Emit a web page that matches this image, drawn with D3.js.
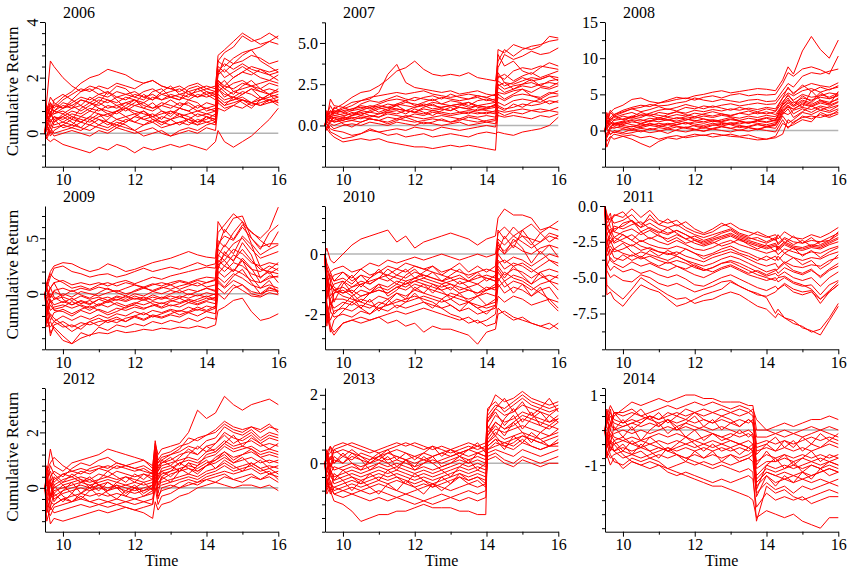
<!DOCTYPE html>
<html><head><meta charset="utf-8">
<script src="https://cdn.jsdelivr.net/npm/d3@7"></script>
<style>body{margin:0;background:#fff}svg{display:block}svg text{font-family:"Liberation Serif","Times New Roman",serif !important;}</style>
</head><body><svg id="c" width="850" height="573"></svg>
<script>
// ---------- data ----------
const years = ["2006","2007","2008","2009","2010","2011","2012","2013","2014"];
const xTicks = [10,12,14,16];
const xMinor = [11,13,15];

const tJump1432 = [9.5,9.55,9.65,9.75, 10,10.25,10.5,10.75,11,11.25,11.5,11.75,12,12.25,12.5,12.75,13,13.25,13.5,13.75,14,14.25, 14.32, 14.5,14.75,15,15.25,15.5,15.75,16];
const t2008 = [9.5,9.55,9.65,9.75, 10,10.25,10.5,10.75,11,11.25,11.5,11.75,12,12.25,12.5,12.75,13,13.25,13.5,13.75,14,14.25, 14.45, 14.6,14.75,15,15.25,15.5,15.75,16];
const t2012 = [9.5,9.55,9.65,9.75, 10,10.25,10.5,10.75,11,11.25,11.5,11.75,12,12.25,12.5, 12.57,12.65, 12.75,13,13.25,13.5,13.75,14,14.25,14.5,14.75,15,15.25,15.5,15.75,16];
const t2013 = [9.5,9.55,9.65,9.75, 10,10.25,10.5,10.75,11,11.25,11.5,11.75,12,12.25,12.5,12.75,13,13.25,13.5,13.75, 13.98,14.03, 14.25,14.5,14.75,15,15.25,15.5,15.75,16];
const t2014 = [9.5,9.55,9.65,9.75, 10,10.25,10.5,10.75,11,11.25,11.5,11.75,12,12.25,12.5,12.75,13,13.25,13.5, 13.62,13.72, 14,14.25,14.5,14.75,15,15.25,15.5,15.75,16];

const r2006 = [
[0,1.2,2.6,2.4, 2.0,1.7,1.5,1.6,1.4,1.5,1.3,1.4,1.5,1.3,1.4,1.2,1.3,1.4,1.5,1.3,1.4,1.5, 2.6, 2.9,3.1,3.5,3.3,3.4,3.6,3.4],
[0,0.6,0.9,1.0, 1.3,1.5,1.8,2.0,2.1,2.3,2.2,2.1,1.9,1.8,1.9,1.7,1.6,1.7,1.5,1.6,1.7,1.6, 2.8, 3.0,3.3,3.6,3.4,3.2,3.3,3.2],
[0,0.8,1.1,0.9, 1.2,1.4,1.6,1.5,1.7,1.6,1.8,1.7,1.6,1.8,1.9,1.7,1.6,1.5,1.7,1.8,1.6,1.7, 2.6, 2.4,2.7,2.9,3.0,3.1,3.3,3.5],
[0,0.5,0.7,1.0, 0.9,1.1,1.3,1.2,1.4,1.3,1.5,1.4,1.3,1.5,1.6,1.4,1.5,1.6,1.4,1.5,1.6,1.5, 2.4, 2.2,2.5,2.6,2.8,2.7,2.5,2.6],
[0,0.3,0.6,0.8, 1.0,0.9,1.2,1.1,1.0,1.2,1.1,1.3,1.2,1.1,1.3,1.2,1.4,1.3,1.2,1.4,1.3,1.4, 2.1, 2.3,2.0,2.2,2.4,2.3,2.2,2.3],
[0,0.7,0.9,0.8, 0.7,0.9,1.0,0.8,1.1,0.9,1.0,0.8,1.0,1.1,0.9,1.0,1.2,1.0,1.1,0.9,1.1,1.0, 1.9, 1.7,2.0,2.2,2.1,2.3,2.1,2.2],
[0,0.4,0.2,0.5, 0.6,0.8,0.7,0.9,0.8,1.0,0.9,1.1,1.0,0.9,0.8,1.0,0.9,1.1,1.0,0.8,0.9,1.0, 1.8, 1.6,1.8,1.9,1.7,1.8,1.9,1.8],
[0,0.6,0.4,0.6, 0.5,0.7,0.6,0.8,0.7,0.6,0.8,0.9,0.7,0.8,0.6,0.7,0.8,0.6,0.7,0.8,0.7,0.6, 1.5, 1.7,1.6,1.8,1.7,1.6,1.8,1.7],
[0,0.2,0.5,0.3, 0.4,0.6,0.5,0.4,0.6,0.7,0.5,0.6,0.7,0.5,0.6,0.4,0.5,0.6,0.5,0.7,0.6,0.5, 1.6, 1.3,1.5,1.4,1.6,1.5,1.4,1.6],
[0,0.9,0.6,0.7, 0.8,0.6,0.4,0.6,0.5,0.3,0.5,0.4,0.6,0.5,0.4,0.6,0.5,0.3,0.5,0.4,0.6,0.5, 1.4, 1.2,1.3,1.5,1.4,1.2,1.4,1.5],
[0,0.1,0.3,0.2, 0.3,0.2,0.4,0.3,0.5,0.4,0.3,0.5,0.4,0.3,0.5,0.4,0.3,0.4,0.5,0.3,0.4,0.5, 1.3, 1.1,1.2,1.3,1.1,1.2,1.3,1.4],
[0,-0.1,0.2,0.0, 0.1,0.2,0.1,0.3,0.2,0.1,0.3,0.2,0.1,0.3,0.4,0.2,0.3,0.4,0.3,0.5,0.4,0.3, 1.2, 1.0,1.1,1.2,1.0,1.1,1.2,1.3],
[0,-0.2,0.1,-0.1, 0.0,0.1,0.0,-0.1,0.1,0.0,0.2,0.1,0.0,0.1,0.2,0.0,-0.1,0.1,0.2,0.1,0.3,0.4, 1.1, 0.9,1.0,1.2,1.1,1.0,1.1,1.2],
[0,-0.2,-0.3,-0.2, -0.4,-0.5,-0.6,-0.7,-0.5,-0.6,-0.4,-0.5,-0.7,-0.5,-0.6,-0.5,-0.4,-0.5,-0.4,-0.5,-0.6,-0.3, 0.1, -0.3,-0.5,-0.3,-0.1,0.2,0.5,0.9],
[0,0.5,1.0,0.8, 1.1,1.0,1.2,1.1,1.3,1.2,1.0,1.1,1.2,1.0,0.9,1.1,1.0,0.9,0.8,1.0,0.9,0.8, 1.7, 1.9,1.5,1.6,1.7,1.5,1.6,1.5],
[0,0.3,-0.1,0.1, 0.3,0.5,0.4,0.6,0.9,0.8,0.7,0.9,0.8,0.7,0.6,0.8,0.7,0.9,0.8,0.6,0.7,0.8, 1.6, 1.4,1.3,1.2,1.1,1.3,1.2,1.0],
[0,0.8,1.3,1.1, 0.9,1.0,0.8,1.0,1.2,1.1,1.3,1.2,1.4,1.3,1.2,1.4,1.3,1.2,1.4,1.3,1.5,1.4, 2.2, 2.5,2.3,2.5,2.3,2.2,2.1,1.9],
[0,0.4,0.7,0.5, 0.2,0.3,0.2,0.1,0.3,0.2,0.4,0.3,0.1,-0.1,0.0,0.1,-0.1,0.0,0.1,0.0,0.2,0.1, 0.9, 0.8,1.0,0.9,1.1,1.0,1.2,1.1],
[0,1.0,0.6,1.2, 1.4,1.2,1.5,1.7,1.6,1.4,1.7,1.6,1.3,1.2,1.5,1.6,1.3,1.2,1.6,1.7,1.5,1.3, 2.3, 2.0,2.2,2.4,2.2,2.0,1.9,2.1],
[0,0.2,0.8,0.4, 0.7,0.5,0.9,1.1,0.9,0.7,0.8,1.0,1.2,0.9,1.1,0.8,0.6,0.9,1.2,1.1,0.8,0.9, 1.9, 1.6,1.4,1.7,1.9,1.6,1.4,1.3],
[0,-0.1,0.4,0.6, 0.4,0.3,0.6,0.5,0.3,0.5,0.8,0.6,0.4,0.6,0.7,0.5,0.8,0.7,0.6,0.4,0.5,0.7, 1.7, 1.5,1.2,1.4,1.6,1.3,1.1,1.2],
[0,0.6,1.1,0.7, 0.9,1.2,1.0,1.3,1.1,1.5,1.2,0.9,1.1,1.4,1.2,1.5,1.7,1.4,1.3,1.6,1.4,1.2, 2.1, 2.7,2.5,2.8,3.0,2.6,2.4,2.2],
[0,0.3,0.0,0.4, 0.6,0.4,0.2,0.5,0.7,0.4,0.2,0.4,0.6,0.8,0.5,0.3,0.5,0.7,0.4,0.3,0.6,0.4, 1.2, 1.0,1.3,1.1,0.9,1.2,1.4,1.1]
];

const r2007 = [
[0,0.5,0.8,1.0, 1.3,1.7,2.0,2.1,2.4,2.8,3.3,3.5,3.9,3.4,3.1,3.0,3.1,3.0,3.2,2.9,2.8,2.7, 3.9, 4.6,4.2,4.6,4.8,4.9,5.1,5.2],
[0,0.3,0.6,0.8, 1.0,1.2,1.5,1.6,2.0,3.1,3.7,2.6,2.3,2.2,2.1,2.0,2.1,1.9,2.0,2.1,1.9,1.8, 4.6, 4.4,4.9,4.7,4.6,4.8,5.4,5.3],
[0,0.4,1.6,1.2, 1.1,1.4,1.5,1.7,1.8,1.9,2.0,1.9,2.0,2.1,1.9,1.8,1.7,1.8,1.9,1.8,1.7,1.9, 3.5, 4.3,4.0,4.2,4.5,4.3,4.4,4.7],
[0,0.6,0.9,0.7, 0.9,1.0,1.2,1.1,1.3,1.5,1.6,1.5,1.7,1.6,1.5,1.7,1.6,1.5,1.6,1.7,1.5,1.6, 3.0, 2.8,3.3,3.5,3.4,3.6,3.5,3.4],
[0,0.2,0.5,0.6, 0.7,0.9,1.0,1.2,1.1,1.3,1.2,1.4,1.3,1.2,1.4,1.3,1.2,1.3,1.4,1.2,1.3,1.4, 2.7, 2.4,2.6,2.9,2.7,2.8,3.0,2.9],
[0,0.7,0.4,0.8, 0.6,0.7,0.9,0.8,1.0,1.1,1.0,0.9,1.1,1.2,1.0,1.1,1.2,1.1,1.0,1.2,1.1,1.2, 2.5, 2.2,2.4,2.5,2.6,2.4,2.7,2.8],
[0,0.4,0.3,0.5, 0.4,0.6,0.7,0.8,0.7,0.9,1.0,0.9,0.8,1.0,0.9,1.0,0.9,1.1,1.0,0.9,1.0,1.1, 2.3, 2.0,2.2,2.4,2.3,2.5,2.6,2.5],
[0,0.5,0.2,0.3, 0.5,0.4,0.6,0.5,0.7,0.8,0.7,0.9,0.8,0.7,0.9,0.8,0.7,0.8,0.9,0.8,0.7,0.9, 2.0, 1.9,2.1,2.2,2.0,2.3,2.2,2.4],
[0,0.3,0.6,0.4, 0.3,0.5,0.4,0.6,0.5,0.7,0.6,0.5,0.7,0.6,0.8,0.7,0.6,0.7,0.8,0.7,0.8,0.7, 1.7, 1.5,1.8,1.9,1.8,1.7,2.0,1.9],
[0,-0.1,0.3,0.2, 0.4,0.3,0.5,0.4,0.3,0.5,0.4,0.6,0.5,0.4,0.5,0.6,0.5,0.4,0.6,0.5,0.6,0.5, 1.4, 1.2,1.5,1.6,1.5,1.4,1.7,1.8],
[0,0.2,0.1,0.0, 0.2,0.3,0.2,0.4,0.3,0.2,0.4,0.3,0.2,0.3,0.4,0.3,0.2,0.4,0.3,0.2,0.3,0.4, 1.2, 1.0,1.1,1.3,1.2,1.3,1.5,1.4],
[0,-0.3,0.0,-0.2, 0.0,0.1,0.0,0.2,0.1,0.0,0.2,0.1,0.0,0.2,0.1,0.0,0.1,0.2,0.0,0.1,0.2,0.1, 0.8, 0.6,0.8,0.7,0.9,1.0,0.9,1.1],
[0,0.1,-0.4,-0.5, -0.8,-0.7,-0.5,-0.2,-0.4,-0.3,-0.2,-0.3,-0.1,-0.2,-0.3,-0.1,-0.2,-0.3,-0.2,-0.1,0.0,-0.1, 0.6, 0.5,0.6,0.5,0.4,0.6,0.5,0.7],
[0,-0.2,-0.5,-0.7, -1.0,-0.9,-0.8,-0.9,-0.8,-1.0,-1.1,-1.2,-1.3,-1.3,-1.4,-1.3,-1.2,-1.3,-1.2,-1.3,-1.4,-1.5, 0.9, 0.8,0.9,1.0,0.9,0.8,0.9,0.8],
[0,0.1,-0.2,-0.3, -0.4,-0.6,-0.5,-0.3,-0.4,-0.6,-0.5,-0.7,-0.6,-0.5,-0.7,-0.6,-0.5,-0.6,-0.7,-0.5,-0.4,-0.5, -0.4, -0.5,-0.6,-0.4,-0.3,-0.2,0.0,0.5],
[0,0.4,0.7,0.9, 0.8,1.0,1.1,1.0,1.2,1.1,1.3,1.2,1.1,1.3,1.2,1.1,1.2,1.3,1.1,1.2,1.1,1.2, 2.4, 2.6,2.5,2.7,2.9,2.8,3.0,2.7],
[0,0.9,0.5,1.1, 0.8,0.6,0.9,1.1,0.8,1.0,1.2,0.9,0.8,1.1,1.3,1.0,0.9,1.2,1.4,1.1,1.0,1.3, 3.2, 2.6,2.2,2.5,2.8,2.4,2.3,2.6],
[0,0.1,0.5,0.2, 0.3,0.6,0.8,0.6,0.5,0.8,0.9,0.7,1.0,0.8,0.6,0.9,1.1,0.8,0.7,1.0,0.9,0.8, 1.9, 1.6,1.9,2.2,1.8,1.6,1.9,2.1],
[0,0.5,0.9,0.6, 0.5,0.8,0.6,0.9,1.1,0.9,1.3,1.5,1.2,1.4,1.6,1.3,1.5,1.4,1.2,1.5,1.6,1.4, 4.3, 3.6,3.9,3.3,3.1,3.5,3.8,3.6],
[0,-0.2,0.2,0.5, 0.1,-0.1,0.2,0.4,0.3,0.1,0.3,0.5,0.3,0.1,0.2,0.4,0.2,0.3,0.5,0.4,0.2,0.3, 1.1, 0.9,1.3,1.1,1.4,1.6,1.3,1.5],
[0,0.6,1.2,0.8, 1.1,0.9,1.3,1.5,1.4,1.6,1.8,1.6,1.5,1.7,1.8,1.6,1.9,1.7,1.6,1.8,1.7,1.5, 2.9, 3.1,2.7,3.0,3.2,2.9,3.1,3.3]
];

const r2008 = [
[0,1.5,2.5,3.0, 3.5,4.3,4.5,4.0,3.8,4.2,4.6,4.4,4.8,5.0,5.3,5.5,5.2,5.4,5.6,5.8,5.7,5.5, 7.0, 8.8,7.8,11.0,13.0,11.2,10.0,12.5],
[0,1.0,1.8,2.2, 2.8,3.2,3.5,3.3,3.8,4.0,4.3,4.5,4.2,4.6,4.8,4.5,4.9,5.1,4.8,5.0,4.9,5.0, 6.5, 8.0,7.5,8.5,8.8,8.4,7.8,10.3],
[0,0.5,1.5,2.0, 2.5,3.0,3.2,3.6,3.4,3.5,3.8,4.0,4.5,4.2,4.0,4.3,4.1,3.9,4.2,4.3,4.0,4.1, 5.5, 6.5,6.0,7.5,8.0,7.8,8.2,8.5],
[0,2.0,1.5,1.8, 2.2,2.5,2.0,2.4,2.8,3.0,2.7,3.2,3.0,3.4,3.2,3.5,3.7,3.4,3.6,3.8,3.6,3.7, 5.0, 5.8,5.2,6.0,6.5,6.2,6.0,6.6],
[0,1.2,0.8,1.5, 2.0,1.7,2.2,2.0,2.5,2.3,2.6,2.4,2.8,2.6,2.9,2.7,3.0,2.8,3.1,2.9,3.2,3.0, 4.5, 5.2,4.8,5.5,5.8,5.3,5.7,6.0],
[0,0.8,1.8,1.4, 1.6,2.0,1.8,2.3,2.1,1.9,2.2,2.0,2.4,2.2,2.0,2.3,2.1,2.4,2.2,2.5,2.3,2.6, 4.0, 4.8,4.2,5.0,4.6,4.8,5.2,5.0],
[0,0.3,1.0,0.8, 1.2,1.5,1.3,1.7,1.5,1.8,1.6,1.9,1.7,2.0,1.8,2.1,1.9,1.7,2.0,1.8,2.1,1.9, 3.5, 4.2,3.8,4.5,4.2,4.6,4.4,4.8],
[0,1.5,0.5,1.0, 0.8,1.2,1.0,1.4,1.2,1.5,1.3,1.6,1.4,1.2,1.5,1.3,1.6,1.4,1.7,1.5,1.8,1.6, 3.0, 3.8,3.3,4.0,3.6,4.2,3.9,4.3],
[0,-0.5,0.5,0.3, 0.7,0.5,0.9,0.7,1.0,0.8,1.1,0.9,1.2,1.0,1.3,1.1,0.9,1.2,1.0,1.3,1.1,1.4, 2.8, 3.2,3.0,3.6,3.3,3.8,3.5,4.0],
[0,0.8,0.2,0.5, 0.3,0.6,0.4,0.7,0.5,0.8,0.6,0.4,0.7,0.5,0.8,0.6,0.9,0.7,0.5,0.8,0.6,0.9, 2.5, 2.2,2.8,3.2,2.9,3.4,3.1,3.5],
[0,-1.0,0.0,-0.3, 0.2,0.0,0.3,0.1,0.4,0.2,0.5,0.3,0.1,0.4,0.2,0.5,0.3,0.6,0.4,0.2,0.5,0.3, 2.0, 1.0,1.5,2.5,2.2,2.8,2.5,3.0],
[0,0.5,-0.5,-0.2, -0.5,-0.3,0.0,-0.3,-0.1,0.2,0.0,-0.2,0.1,-0.1,0.2,0.0,-0.2,0.1,-0.1,0.2,0.0,-0.2, 1.5, 0.3,1.2,1.8,2.0,1.8,2.2,2.5],
[0,-2.3,-1.0,-0.5, -0.8,-0.6,-1.0,-0.8,-1.2,-0.9,-0.7,-1.0,-0.8,-0.6,-0.9,-0.7,-0.5,-0.8,-0.6,-1.0,-1.2,-0.8, 1.0, 0.5,0.8,1.5,1.2,2.5,2.0,2.8],
[0,-1.5,-0.8,-1.2, -0.8,-1.2,-1.8,-2.3,-1.5,-1.0,-1.2,-0.8,-0.5,-0.7,-0.4,-0.6,-0.8,-0.9,-1.1,-1.3,-1.2,-1.0, -0.5, 1.5,1.0,2.0,1.6,2.2,1.8,2.3],
[0,1.0,2.5,2.0, 1.5,1.8,1.5,1.2,1.6,1.4,1.8,1.6,1.3,1.6,1.4,1.2,1.5,1.3,1.1,1.4,1.2,1.5, 3.2, 4.0,3.5,4.2,3.8,5.0,4.6,5.2],
[0,0.5,1.2,0.9, 1.1,0.8,0.6,0.9,0.7,1.0,0.8,1.1,0.9,0.7,1.0,0.8,1.1,0.9,1.2,1.0,0.8,1.1, 2.7, 3.5,2.9,3.8,3.4,4.0,3.7,4.5],
[0,2.5,1.2,0.6, 1.0,1.4,0.9,1.3,1.8,1.5,1.1,1.4,1.9,1.6,1.2,1.5,1.8,1.3,1.0,1.4,1.7,1.3, 3.8, 5.0,4.0,3.2,5.5,4.2,3.6,5.4],
[0,-0.8,0.3,1.0, 0.5,0.2,0.6,1.0,0.7,0.4,0.8,1.1,0.6,0.3,0.7,1.0,0.8,0.4,0.6,0.9,0.5,0.7, 2.2, 3.0,1.8,2.6,3.4,2.8,3.3,3.9],
[0,1.8,2.8,2.2, 2.6,3.0,2.6,2.9,3.3,2.9,3.2,3.6,3.3,3.0,3.4,3.1,2.8,3.2,2.9,2.6,3.0,2.7, 4.5, 6.0,5.0,6.3,5.4,6.0,5.6,6.2],
[0,0.2,-0.6,0.0, -0.3,0.2,-0.2,0.3,0.0,-0.4,0.1,0.5,0.2,-0.1,0.3,0.6,0.3,0.0,0.4,0.1,0.5,0.8, 2.4, 3.5,2.3,3.0,2.5,3.2,2.7,3.4],
[0,0.9,1.6,1.0, 1.3,1.9,2.5,2.1,1.7,2.2,2.6,2.2,1.9,2.3,2.6,2.3,2.0,2.4,2.7,2.3,2.6,2.2, 3.6, 4.5,3.4,4.8,4.0,5.3,4.4,4.9]
];

const r2009 = [
[0,1.0,2.0,2.5, 2.8,2.7,2.3,2.0,2.2,2.7,2.4,2.0,2.2,2.5,2.8,3.0,3.2,3.5,3.8,3.5,3.3,3.2, 5.5, 6.2,7.2,6.5,5.5,5.0,5.8,7.8],
[0,0.5,1.5,2.3, 2.5,2.0,1.8,1.5,1.7,1.8,1.5,1.7,2.0,2.3,2.0,2.2,2.4,2.2,2.5,2.8,2.5,2.7, 6.5, 5.5,6.8,7.0,5.0,4.0,5.5,6.2],
[0,-0.5,0.5,1.0, 1.2,0.8,1.0,0.8,1.0,0.7,1.0,1.2,0.9,1.2,1.5,1.3,1.6,1.8,2.0,2.2,2.4,2.3, 4.5, 5.2,4.8,6.0,5.0,4.2,4.5,4.5],
[0,0.5,-0.3,0.3, 0.5,0.2,0.5,0.3,0.6,0.4,0.2,0.5,0.8,0.6,0.9,0.7,1.0,1.2,1.0,1.3,1.5,1.4, 4.0, 3.5,4.5,5.0,4.0,3.2,3.5,3.8],
[0,-1.0,0.0,-0.5, 0.0,-0.3,0.2,0.0,-0.2,0.1,0.3,0.0,0.2,0.5,0.3,0.6,0.4,0.7,0.9,0.7,1.0,1.2, 3.5, 3.0,4.0,3.6,2.8,2.5,2.8,2.6],
[0,0.3,-0.8,-0.5, -0.3,-0.6,-0.2,-0.5,-0.3,-0.6,-0.2,-0.4,0.0,-0.2,0.2,0.0,0.3,0.1,0.4,0.2,0.5,0.3, 3.0, 2.5,3.5,3.0,2.2,2.0,2.5,2.1],
[0,-1.5,-0.5,-1.0, -0.7,-1.0,-0.6,-0.9,-0.5,-0.8,-0.5,-0.7,-0.4,-0.6,-0.3,-0.5,-0.2,-0.4,0.0,-0.2,0.1,-0.1, 2.5, 2.0,2.8,2.5,1.8,1.5,2.0,1.8],
[0,-0.5,-1.5,-1.2, -1.0,-1.3,-1.0,-1.3,-0.9,-1.2,-0.8,-1.1,-0.8,-1.0,-0.7,-0.9,-0.6,-0.8,-0.5,-0.7,-0.4,-0.6, 2.0, 1.5,2.2,1.8,1.2,1.0,1.6,1.5],
[0,-2.0,-1.0,-1.5, -1.6,-2.0,-1.5,-1.8,-1.4,-1.7,-1.3,-1.5,-1.2,-1.4,-1.0,-1.3,-1.0,-1.2,-0.8,-1.0,-0.7,-0.9, 1.5, 1.0,1.8,1.4,0.8,0.5,0.8,0.5],
[0,-1.0,-2.0,-2.5, -2.0,-2.4,-2.0,-2.3,-1.9,-2.2,-1.8,-2.0,-1.6,-1.9,-1.5,-1.7,-1.4,-1.6,-1.2,-1.5,-1.1,-1.3, 1.0, 0.5,1.2,0.8,0.2,0.0,0.3,0.2],
[0,-2.5,-3.0,-2.5, -3.0,-2.8,-3.2,-2.5,-2.2,-2.6,-2.3,-2.5,-2.1,-2.4,-2.0,-2.2,-1.9,-2.1,-1.7,-2.0,-1.6,-1.8, 0.5, 0.0,0.8,0.3,-0.2,-0.3,0.1,-0.1],
[0,-3.0,-2.5,-3.2, -4.2,-4.5,-3.5,-3.8,-3.0,-3.3,-2.8,-3.0,-2.7,-2.9,-2.5,-2.7,-2.4,-2.6,-2.2,-2.5,-2.1,-2.3, 0.0, -0.5,0.5,0.8,0.0,-0.2,0.5,0.3],
[0,-2.0,-3.5,-3.0, -3.8,-4.5,-4.0,-3.7,-3.5,-3.6,-3.3,-3.5,-3.4,-3.2,-3.3,-3.1,-3.2,-3.0,-3.1,-2.9,-3.1,-2.8, -1.5, -1.2,-0.6,-0.4,-1.6,-2.4,-2.2,-1.8],
[0,1.0,0.5,1.0, -0.5,-1.0,-0.7,-1.0,-0.5,-0.3,-0.6,-0.2,-0.5,-0.3,-0.6,-0.3,-0.5,-0.2,-0.4,-0.1,-0.3,0.0, 2.8, 3.5,3.0,4.0,3.0,2.2,2.0,1.0],
[0,-1.0,-3.8,-2.8, -2.5,-3.0,-2.6,-2.8,-2.5,-2.4,-2.6,-2.2,-2.0,-2.3,-1.9,-2.1,-1.8,-1.5,-1.7,-1.4,-1.6,-1.3, 1.8, 2.5,2.0,3.0,1.5,0.5,1.2,0.0],
[0,0.8,1.8,1.4, 1.0,0.5,0.7,0.4,0.8,1.0,0.7,1.0,0.8,0.5,0.8,1.0,0.8,1.1,0.9,1.2,1.0,1.3, 4.8, 4.2,5.5,6.5,4.5,3.5,4.0,4.4],
[0,-1.8,-0.6,-1.4, -1.2,-0.7,-1.1,-1.5,-1.0,-0.6,-1.0,-1.3,-0.9,-0.5,-0.9,-1.2,-0.7,-0.4,-0.8,-0.5,-0.2,-0.5, 2.2, 3.8,2.9,4.6,3.5,1.4,2.2,2.8],
[0,0.6,-0.4,0.2, -0.2,0.3,-0.1,-0.4,0.1,0.5,0.1,-0.2,0.3,0.6,0.2,0.5,0.8,0.4,0.7,1.0,0.6,0.8, 4.2, 5.8,4.9,6.2,5.6,4.8,4.2,5.6],
[0,-2.6,-1.8,-2.2, -2.8,-3.4,-2.9,-2.5,-2.9,-2.4,-2.1,-2.5,-2.0,-1.7,-2.1,-1.8,-1.5,-1.9,-1.6,-1.2,-1.5,-1.1, 1.2, 0.6,1.6,2.2,1.0,0.0,0.6,0.2],
[0,-0.2,0.6,-0.3, -0.8,-0.4,-0.9,-0.6,-1.1,-0.7,-0.3,-0.6,-0.2,-0.5,-0.1,-0.4,0.0,0.3,-0.1,0.2,0.5,0.2, 3.4, 4.4,3.6,5.2,4.4,2.4,1.8,2.3],
[0,-1.2,-2.4,-1.7, -1.4,-1.8,-1.4,-1.1,-1.5,-1.9,-1.6,-1.2,-1.0,-1.3,-1.1,-0.8,-1.1,-0.9,-0.6,-0.9,-0.6,-0.3, 2.6, 3.0,2.0,3.2,2.3,1.0,1.4,1.6]
];

const r2010 = [
[0,0.2,-0.2,-0.3, 0.0,0.3,0.5,0.6,0.7,0.8,0.4,0.6,0.2,0.4,0.5,0.6,0.7,0.6,0.5,0.3,0.5,0.6, 1.2, 1.5,1.3,1.3,1.2,0.8,0.9,1.1],
[0,-0.3,-0.6,-0.5, -0.4,-0.6,-0.5,-0.3,-0.4,-0.2,-0.3,-0.2,-0.1,-0.2,-0.1,0.0,-0.1,-0.2,-0.1,0.0,-0.1,0.0, 0.7, 0.9,0.6,0.8,1.0,0.7,0.9,0.8],
[0,-0.5,-0.9,-0.7, -0.6,-0.8,-0.5,-0.7,-0.6,-0.4,-0.5,-0.3,-0.4,-0.5,-0.4,-0.6,-0.5,-0.6,-0.7,-0.6,-0.5,-0.6, 0.5, 0.3,0.6,0.4,0.2,0.4,0.6,0.5],
[0,-1.0,-0.7,-0.9, -0.8,-1.0,-0.7,-0.8,-0.6,-0.7,-0.5,-0.6,-0.4,-0.5,-0.6,-0.7,-0.8,-0.7,-0.9,-0.8,-0.7,-0.8, 0.2, 0.0,0.3,0.1,0.0,0.2,0.3,0.2],
[0,-0.8,-1.2,-1.0, -0.9,-1.1,-0.9,-1.0,-0.8,-0.9,-0.7,-0.8,-0.6,-0.7,-0.8,-0.9,-0.8,-1.0,-0.9,-1.0,-0.8,-0.9, 0.0, -0.3,-0.1,-0.2,-0.4,-0.2,0.0,-0.1],
[0,-1.5,-1.0,-1.2, -1.1,-1.3,-1.0,-1.2,-1.0,-1.1,-0.9,-1.0,-0.8,-0.9,-1.0,-1.1,-1.0,-1.2,-1.1,-1.0,-1.2,-1.1, -0.2, -0.5,-0.3,-0.4,-0.6,-0.4,-0.2,-0.3],
[0,-1.2,-1.5,-1.3, -1.2,-1.4,-1.2,-1.3,-1.1,-1.2,-1.0,-1.1,-0.9,-1.0,-1.1,-1.2,-1.1,-1.3,-1.2,-1.3,-1.1,-1.2, -0.4, -0.7,-0.5,-0.6,-0.8,-0.6,-0.5,-0.6],
[0,-2.0,-1.6,-1.8, -1.6,-1.7,-1.5,-1.6,-1.4,-1.5,-1.3,-1.4,-1.2,-1.3,-1.4,-1.5,-1.3,-1.4,-1.5,-1.4,-1.3,-1.4, -0.6, -0.9,-0.7,-0.8,-1.0,-0.8,-0.7,-0.8],
[0,-1.8,-2.2,-1.9, -1.8,-1.9,-1.7,-1.8,-1.6,-1.7,-1.5,-1.6,-1.5,-1.4,-1.5,-1.6,-1.5,-1.7,-1.6,-1.8,-1.7,-1.6, -0.8, -1.1,-0.9,-1.0,-1.2,-1.0,-0.9,-1.2],
[0,-2.3,-1.9,-2.1, -2.0,-2.1,-1.9,-2.0,-1.8,-1.9,-1.7,-1.8,-1.7,-1.6,-1.7,-1.8,-1.7,-1.9,-1.8,-2.0,-1.9,-1.8, -1.0, -1.3,-1.1,-1.2,-1.4,-1.2,-1.1,-1.5],
[0,-1.6,-2.4,-2.6, -2.3,-2.2,-2.1,-2.2,-2.1,-2.0,-1.9,-2.0,-1.9,-1.8,-1.9,-2.0,-2.1,-2.2,-2.1,-2.3,-2.2,-2.0, -1.4, -1.6,-1.4,-1.5,-1.7,-1.6,-1.5,-1.8],
[0,-2.0,-2.5,-2.7, -2.3,-2.2,-2.3,-2.2,-2.1,-2.3,-2.2,-2.4,-2.3,-2.6,-2.4,-2.5,-2.5,-2.6,-2.7,-3.0,-2.6,-2.5, -2.0, -1.9,-2.1,-2.2,-2.3,-2.4,-2.3,-2.5],
[0,-1.3,-1.0,-1.2, -1.4,-1.5,-1.6,-1.7,-1.8,-1.7,-1.6,-1.5,-1.4,-1.5,-1.6,-1.8,-2.0,-2.1,-2.3,-2.2,-2.4,-2.3, -1.8, -2.0,-2.2,-2.1,-2.3,-2.4,-2.5,-2.3],
[0,-0.6,-1.4,-1.2, -1.3,-1.1,-1.0,-0.9,-0.8,-0.7,-0.8,-0.9,-0.8,-0.7,-0.8,-0.9,-1.0,-1.1,-1.2,-1.3,-1.2,-1.1, -0.3, -0.2,-0.4,-0.3,-0.5,-0.7,-0.9,-1.0],
[0,-0.4,-0.8,-1.1, -1.3,-1.2,-1.4,-1.3,-1.2,-1.3,-1.1,-1.2,-1.0,-1.1,-1.2,-1.3,-1.4,-1.5,-1.6,-1.7,-1.8,-1.7, -0.9, -0.6,-0.8,-0.9,-1.1,-1.3,-1.5,-1.6],
[0,-0.9,-1.7,-1.5, -1.5,-1.6,-1.4,-1.3,-1.2,-1.3,-1.1,-1.0,-0.9,-0.8,-0.9,-1.0,-0.9,-0.8,-0.9,-0.7,-0.8,-0.9, 0.3, 0.1,0.4,0.6,0.5,0.4,0.7,0.6],
[0,-1.4,-0.9,-1.6, -1.0,-0.7,-1.1,-0.8,-0.5,-0.8,-1.0,-0.7,-0.5,-0.8,-0.6,-0.9,-0.7,-0.5,-0.8,-0.6,-0.9,-0.7, 0.4, 0.0,0.5,0.2,-0.3,0.1,-0.2,-0.4],
[0,-2.4,-1.5,-2.0, -1.7,-1.4,-1.8,-1.5,-1.9,-1.6,-1.3,-1.5,-1.1,-1.3,-1.0,-1.2,-1.5,-1.3,-1.6,-1.4,-1.7,-1.5, -0.5, -0.8,-0.4,-0.7,-1.0,-0.6,-0.9,-0.7],
[0,-0.7,-1.9,-1.3, -0.9,-1.3,-1.6,-1.3,-1.0,-1.4,-1.2,-0.9,-1.2,-1.0,-1.3,-1.0,-1.2,-0.9,-1.1,-1.4,-1.2,-1.0, 0.1, 0.6,0.2,0.8,0.4,0.0,0.3,-0.1],
[0,-1.9,-2.6,-2.2, -1.9,-1.6,-1.8,-2.0,-1.7,-1.5,-1.8,-1.6,-1.3,-1.6,-1.8,-1.5,-1.7,-1.9,-1.6,-1.8,-2.0,-1.7, -1.1, -0.9,-1.3,-1.0,-1.4,-1.1,-1.6,-1.9],
[0,-1.1,-0.6,-0.9, -0.6,-0.9,-0.7,-1.0,-0.8,-0.5,-0.7,-0.5,-0.8,-0.6,-0.4,-0.7,-0.5,-0.3,-0.6,-0.4,-0.6,-0.4, 0.8, 0.5,0.9,0.6,0.3,0.7,0.4,0.6]
];

const r2011 = [
[0,-0.8,-1.0,-0.6, -0.8,-0.2,-0.8,-0.3,-1.0,-1.2,-1.0,-1.5,-1.8,-2.0,-1.8,-1.4,-1.2,-1.6,-1.8,-2.0,-2.2,-2.0, -2.3, -1.8,-2.2,-2.3,-2.0,-2.2,-1.9,-1.5],
[0,-1.2,-0.8,-1.2, -1.0,-0.6,-1.3,-0.9,-1.3,-1.5,-1.3,-1.7,-2.0,-2.2,-2.0,-1.8,-1.6,-2.0,-2.2,-2.4,-2.6,-2.3, -2.6, -2.2,-2.5,-2.6,-2.4,-2.5,-2.2,-1.9],
[0,-1.5,-2.0,-1.6, -1.4,-1.0,-1.5,-1.2,-1.6,-1.9,-1.7,-2.0,-2.3,-2.5,-2.3,-2.1,-1.9,-2.2,-2.4,-2.6,-2.8,-2.6, -2.9, -2.5,-2.8,-2.9,-2.7,-2.8,-2.5,-2.2],
[0,-2.0,-1.6,-2.2, -1.8,-1.6,-2.0,-1.7,-2.1,-2.3,-2.0,-2.3,-2.6,-2.8,-2.6,-2.3,-2.1,-2.4,-2.6,-2.8,-3.0,-2.8, -3.1, -2.7,-3.0,-3.1,-2.9,-3.0,-2.7,-2.5],
[0,-2.5,-2.2,-2.6, -2.3,-2.0,-2.5,-2.2,-2.5,-2.7,-2.4,-2.7,-3.0,-3.1,-2.9,-2.6,-2.4,-2.7,-2.9,-3.1,-3.3,-3.1, -3.4, -3.0,-3.2,-3.4,-3.2,-3.3,-3.0,-2.8],
[0,-1.8,-2.6,-2.2, -2.5,-2.8,-2.4,-2.7,-2.9,-3.0,-2.8,-3.0,-3.3,-3.5,-3.3,-3.0,-2.8,-3.1,-3.3,-3.6,-3.8,-3.5, -3.8, -3.3,-3.6,-3.8,-3.6,-3.7,-3.4,-3.2],
[0,-3.0,-2.8,-3.2, -3.0,-2.7,-3.1,-2.9,-3.2,-3.4,-3.2,-3.5,-3.7,-3.9,-3.6,-3.4,-3.2,-3.4,-3.7,-4.0,-4.2,-4.0, -4.3, -3.9,-4.2,-4.3,-4.1,-4.2,-3.8,-3.6],
[0,-2.2,-3.4,-3.0, -3.3,-3.5,-3.2,-3.4,-3.6,-3.8,-3.5,-3.8,-4.0,-4.2,-4.0,-3.7,-3.5,-3.7,-4.0,-4.3,-4.6,-4.4, -4.7, -4.3,-4.6,-4.8,-4.5,-4.9,-4.4,-4.0],
[0,-3.5,-3.0,-3.6, -3.8,-3.4,-3.7,-3.5,-3.8,-4.0,-3.8,-4.0,-4.3,-4.5,-4.3,-4.0,-3.8,-4.0,-4.3,-4.6,-4.9,-4.7, -4.9, -4.6,-5.0,-5.2,-5.0,-5.6,-5.0,-4.6],
[0,-2.8,-3.8,-4.0, -4.3,-3.9,-4.2,-4.0,-4.3,-4.5,-4.2,-4.5,-4.8,-5.0,-4.7,-4.4,-4.2,-4.5,-4.8,-5.0,-5.2,-5.0, -5.3, -5.0,-5.4,-5.6,-5.5,-6.2,-5.5,-5.2],
[0,-4.0,-4.5,-4.2, -4.6,-4.4,-4.7,-4.5,-4.8,-5.0,-4.8,-5.1,-5.5,-5.6,-5.3,-5.0,-4.8,-5.1,-5.4,-5.7,-5.9,-5.6, -5.8, -5.4,-5.8,-6.0,-5.9,-6.8,-6.0,-5.5],
[0,-4.5,-5.0,-4.8, -5.2,-5.3,-4.8,-5.0,-5.4,-5.6,-5.4,-5.7,-6.0,-5.8,-5.6,-5.3,-5.2,-5.6,-5.9,-6.2,-6.3,-6.0, -5.8, -5.5,-6.0,-6.2,-6.0,-6.5,-5.9,-5.3],
[0,-6.2,-6.0,-6.5, -7.0,-6.2,-5.5,-5.8,-6.0,-6.5,-7.0,-6.8,-6.5,-6.2,-6.0,-5.8,-5.3,-5.6,-5.9,-6.1,-6.4,-7.5, -7.2, -7.8,-8.0,-8.5,-8.7,-9.0,-8.0,-7.0],
[0,-5.5,-5.8,-6.0, -6.5,-5.8,-5.0,-5.4,-5.8,-6.2,-6.5,-6.4,-6.8,-6.6,-6.5,-6.2,-6.0,-6.2,-6.6,-7.0,-7.2,-7.8, -7.5, -7.8,-8.2,-8.4,-8.8,-8.6,-7.8,-6.8],
[0,-0.5,-1.5,-1.8, -2.0,-2.4,-2.8,-3.0,-3.2,-3.3,-3.5,-3.8,-4.2,-4.5,-4.3,-4.0,-3.9,-4.2,-4.5,-4.8,-5.0,-5.2, -5.0, -4.9,-5.3,-5.5,-5.8,-6.5,-6.0,-5.5],
[0,-1.0,-0.5,-1.8, -1.2,-1.0,-1.8,-1.5,-1.8,-2.0,-1.7,-2.0,-2.4,-2.6,-2.4,-2.2,-2.0,-2.3,-2.5,-2.7,-2.9,-2.7, -3.0, -2.6,-2.9,-3.0,-2.8,-2.9,-2.6,-2.3],
[0,-1.6,-1.1,-0.7, -0.4,-1.1,-1.5,-0.6,-1.3,-0.9,-1.4,-1.1,-1.6,-1.9,-1.6,-1.2,-1.5,-1.9,-2.1,-1.8,-2.1,-2.4, -2.0, -2.6,-2.1,-2.6,-2.2,-2.7,-2.4,-2.0],
[0,-2.8,-1.9,-2.5, -2.0,-2.4,-1.8,-2.3,-2.0,-2.5,-2.2,-2.6,-2.4,-2.7,-2.5,-2.8,-2.6,-2.3,-2.7,-3.0,-2.7,-3.2, -2.8, -3.3,-2.9,-3.5,-3.1,-3.6,-3.2,-2.9],
[0,-3.2,-2.4,-3.0, -2.6,-3.2,-3.6,-3.1,-3.5,-3.1,-3.4,-3.0,-3.3,-3.7,-3.4,-3.2,-3.0,-3.3,-3.5,-3.8,-3.5,-3.8, -3.5, -4.0,-3.6,-4.1,-3.8,-4.4,-4.0,-3.4],
[0,-1.3,-1.9,-1.4, -1.6,-1.3,-1.1,-1.6,-1.9,-1.5,-1.9,-2.3,-2.1,-2.4,-2.2,-1.9,-1.7,-2.1,-2.3,-2.2,-2.5,-2.2, -2.7, -2.3,-2.7,-2.4,-2.8,-2.5,-2.4,-1.8],
[0,-4.2,-3.6,-3.9, -3.4,-3.8,-3.5,-3.9,-4.2,-3.9,-4.2,-4.4,-4.1,-4.4,-4.6,-4.3,-4.1,-4.4,-4.7,-4.5,-4.8,-4.5, -4.4, -4.0,-4.5,-4.7,-4.4,-5.0,-4.5,-4.2]
];

const r2012 = [
[0,0.5,1.4,0.8, 0.6,0.9,1.0,1.1,1.2,1.4,1.3,1.2,1.1,1.0,0.8, 1.6,1.2, 1.4,1.5,1.6,2.0,2.8,2.5,2.7,3.3,3.0,2.8,3.0,3.1,3.2,3.0],
[0,0.8,0.4,0.6, 0.4,0.7,0.9,0.8,1.0,1.1,0.9,0.8,0.9,1.0,0.7, 1.7,1.0, 1.2,1.3,1.5,1.6,1.8,1.9,2.1,2.4,2.2,2.1,2.2,2.0,2.2,2.1],
[0,0.3,0.6,0.2, 0.5,0.6,0.5,0.7,0.8,0.7,0.9,0.8,0.7,0.8,0.6, 1.5,0.9, 1.0,1.2,1.3,1.5,1.4,1.7,1.8,2.2,2.0,1.9,2.1,1.8,2.0,1.9],
[0,-0.2,0.4,0.1, 0.3,0.4,0.6,0.5,0.7,0.6,0.8,0.7,0.6,0.7,0.5, 1.3,0.8, 0.9,1.0,1.2,1.3,1.2,1.5,1.6,2.0,1.8,1.7,1.9,1.6,1.8,1.7],
[0,0.4,-0.3,0.0, 0.2,0.3,0.4,0.3,0.5,0.4,0.6,0.5,0.4,0.5,0.4, 1.1,0.6, 0.8,0.9,1.0,1.1,1.0,1.3,1.4,1.7,1.5,1.6,1.7,1.5,1.6,1.5],
[0,-0.5,0.2,-0.2, 0.1,0.2,0.3,0.2,0.3,0.4,0.3,0.4,0.3,0.2,0.3, 0.9,0.5, 0.6,0.7,0.9,1.0,0.9,1.1,1.2,1.5,1.3,1.4,1.5,1.3,1.4,1.3],
[0,0.2,-0.4,-0.1, 0.0,0.1,0.2,0.1,0.2,0.3,0.2,0.1,0.2,0.1,0.2, 0.8,0.3, 0.5,0.6,0.7,0.8,0.7,0.9,1.0,1.3,1.1,1.2,1.3,1.1,1.2,1.1],
[0,-0.3,0.1,-0.3, -0.1,0.0,0.1,0.0,0.1,0.0,0.1,0.0,-0.1,0.0,0.1, 0.6,0.2, 0.3,0.5,0.6,0.7,0.6,0.8,0.9,1.1,0.9,1.0,1.1,0.9,1.0,0.9],
[0,-0.6,-0.2,-0.4, -0.2,-0.1,0.0,-0.1,0.0,-0.1,0.0,-0.1,-0.2,-0.1,0.0, 0.5,0.1, 0.2,0.3,0.4,0.5,0.4,0.6,0.7,0.9,0.7,0.8,0.9,0.7,0.8,0.7],
[0,0.1,-0.5,-0.6, -0.4,-0.3,-0.2,-0.3,-0.2,-0.3,-0.2,-0.3,-0.4,-0.3,-0.2, 0.4,0.0, 0.1,0.2,0.3,0.4,0.3,0.5,0.6,0.8,0.6,0.7,0.8,0.6,0.7,0.5],
[0,-0.8,-1.0,-0.7, -0.6,-0.5,-0.4,-0.5,-0.4,-0.5,-0.4,-0.5,-0.6,-0.5,-0.4, 0.2,-0.3, -0.1,0.0,0.2,0.3,0.2,0.4,0.5,0.6,0.5,0.6,0.7,0.5,0.6,0.3],
[0,-1.2,-0.7,-0.9, -0.8,-0.7,-0.6,-0.7,-0.6,-0.5,-0.6,-0.7,-0.8,-0.7,-0.6, 0.0,-0.6, -0.3,-0.2,0.0,0.1,0.2,0.3,0.4,0.5,0.3,0.4,0.5,0.3,0.4,0.2],
[0,-0.5,-1.3,-1.1, -1.2,-1.1,-1.0,-0.9,-0.8,-0.9,-0.8,-0.7,-0.8,-0.9,-1.1, -0.5,-0.8, -0.6,-0.5,-0.3,-0.2,0.0,0.1,0.2,0.1,0.0,0.1,0.1,0.0,0.1,-0.1],
[0,0.6,0.9,1.1, 0.8,0.6,0.7,0.6,0.7,0.8,0.7,0.8,0.7,0.6,0.5, 1.4,0.9, 1.1,1.2,1.4,1.8,1.7,1.9,2.0,2.3,2.1,2.0,2.2,2.1,2.3,2.0],
[0,-0.4,-0.8,-0.6, -0.4,-0.5,-0.3,-0.5,-0.6,-0.7,-0.6,-0.5,-0.4,-0.5,-0.6, 0.3,-0.4, 0.0,0.1,0.0,0.2,0.1,0.3,0.2,0.4,0.3,0.2,0.4,0.3,0.5,0.4],
[0,0.3,0.1,0.3, 0.5,0.4,0.2,0.3,0.1,0.2,0.0,0.1,0.0,-0.1,0.1, 1.0,0.4, 0.7,0.8,0.6,0.9,0.8,1.2,1.3,1.6,1.4,1.5,1.4,1.2,1.3,1.2],
[0,0.7,-0.3,0.4, 0.1,-0.2,0.2,0.4,0.1,-0.1,0.2,0.4,0.2,0.5,0.3, 1.2,0.6, 0.9,1.1,0.8,1.2,1.5,1.3,1.6,1.9,1.6,1.8,2.0,1.7,1.9,1.8],
[0,-0.9,-0.4,0.1, -0.3,-0.5,-0.2,0.0,-0.3,-0.1,0.1,-0.2,0.0,-0.3,-0.1, 0.8,-0.2, 0.4,0.6,0.9,0.7,0.5,0.8,1.0,1.2,0.9,1.1,0.8,1.0,0.7,0.8],
[0,0.2,0.8,0.5, 0.2,0.5,0.3,0.0,0.3,0.6,0.4,0.2,0.5,0.3,0.6, 1.3,0.7, 1.0,0.8,1.1,1.4,1.2,1.5,1.3,1.6,1.9,1.5,1.8,1.6,1.4,1.6],
[0,-0.1,0.3,-0.5, -0.1,0.2,-0.2,0.1,-0.1,0.2,0.0,-0.3,0.0,0.2,-0.1, 0.7,0.1, 0.4,0.2,0.6,0.9,0.6,0.8,1.1,1.3,1.0,1.2,1.4,1.1,0.9,1.0],
[0,0.4,-0.7,-0.2, -0.5,-0.2,-0.4,-0.1,0.1,-0.2,-0.4,-0.1,0.1,-0.2,0.0, 0.9,0.3, 0.6,0.4,0.7,0.5,0.8,1.0,0.7,1.0,0.8,0.6,0.9,0.7,0.5,0.6]
];

const r2013 = [
[0,0.2,0.3,0.5, 0.6,0.5,0.4,0.3,0.4,0.5,0.6,0.5,0.6,0.5,0.4,0.5,0.4,0.5,0.6,0.5, 0.6,1.5, 2.0,1.8,1.9,2.1,1.9,1.8,1.7,1.8],
[0,0.3,0.1,0.4, 0.5,0.6,0.5,0.4,0.3,0.4,0.5,0.6,0.5,0.4,0.5,0.4,0.3,0.4,0.5,0.4, 0.5,1.6, 1.8,1.5,1.7,1.9,1.7,1.6,1.5,1.6],
[0,-0.2,0.2,0.0, 0.2,0.1,0.3,0.2,0.1,0.3,0.4,0.3,0.2,0.3,0.2,0.3,0.4,0.3,0.4,0.5, 0.4,1.2, 1.6,1.4,1.5,1.7,1.6,1.5,1.4,1.6],
[0,0.2,-0.1,0.1, 0.0,0.2,0.1,0.0,0.2,0.1,0.2,0.1,0.2,0.1,0.0,0.1,0.2,0.3,0.2,0.3, 0.2,1.0, 1.4,1.2,1.3,1.5,1.4,1.3,1.2,1.4],
[0,-0.3,0.0,-0.2, -0.1,0.0,-0.1,0.0,0.1,0.0,0.1,0.0,-0.1,0.0,0.1,0.0,0.1,0.2,0.1,0.2, 0.1,0.8, 1.2,1.0,1.1,1.3,1.2,1.1,1.0,1.2],
[0,0.1,-0.3,-0.1, -0.2,-0.1,-0.2,-0.1,0.0,-0.1,0.0,-0.1,-0.2,-0.1,-0.2,-0.1,0.0,0.1,0.0,0.1, 0.0,0.7, 1.0,0.9,1.0,1.1,1.0,0.9,0.8,1.0],
[0,-0.4,-0.2,-0.4, -0.3,-0.2,-0.3,-0.2,-0.1,-0.2,-0.1,-0.2,-0.3,-0.2,-0.3,-0.2,-0.1,0.0,-0.1,0.0, -0.1,0.6, 0.9,0.7,0.8,0.9,0.8,0.7,0.8,0.9],
[0,0.2,-0.4,-0.5, -0.4,-0.3,-0.4,-0.3,-0.2,-0.3,-0.2,-0.3,-0.4,-0.3,-0.4,-0.3,-0.2,-0.1,-0.2,-0.1, -0.2,0.5, 0.7,0.6,0.7,0.8,0.7,0.6,0.7,0.8],
[0,-0.6,-0.3,-0.6, -0.5,-0.4,-0.5,-0.4,-0.3,-0.4,-0.3,-0.4,-0.5,-0.4,-0.5,-0.4,-0.3,-0.2,-0.3,-0.2, -0.3,0.4, 0.6,0.5,0.4,0.6,0.5,0.4,0.5,0.6],
[0,0.0,-0.6,-0.7, -0.6,-0.5,-0.6,-0.5,-0.4,-0.5,-0.4,-0.5,-0.6,-0.5,-0.6,-0.5,-0.4,-0.3,-0.4,-0.3, -0.4,0.3, 0.4,0.3,0.2,0.4,0.3,0.2,0.3,0.4],
[0,-0.8,-0.5,-0.8, -0.7,-0.6,-0.7,-0.6,-0.5,-0.6,-0.5,-0.6,-0.7,-0.6,-0.7,-0.6,-0.5,-0.4,-0.5,-0.4, -0.5,0.2, 0.3,0.1,0.0,0.2,0.1,0.0,0.1,0.2],
[0,-0.5,-0.9,-0.7, -0.8,-0.7,-0.8,-0.7,-0.6,-0.7,-0.8,-0.9,-0.8,-0.7,-0.6,-0.7,-0.8,-0.7,-0.6,-0.7, -0.6,0.1, 0.2,0.0,-0.1,0.1,0.0,-0.1,0.0,0.0],
[0,-0.9,-0.7,-0.9, -0.8,-0.9,-0.8,-0.9,-0.8,-0.9,-1.0,-0.9,-1.0,-1.1,-1.0,-0.9,-1.0,-0.9,-0.8,-0.9, -0.8,0.6, 0.8,0.5,0.6,0.8,0.7,0.6,0.5,0.7],
[0,-0.5,-0.8,-1.1, -1.2,-1.4,-1.7,-1.6,-1.5,-1.5,-1.4,-1.4,-1.3,-1.2,-1.3,-1.3,-1.3,-1.4,-1.4,-1.5, -1.5,0.9, 1.2,1.0,1.2,1.4,1.3,1.2,1.1,1.3],
[0,-0.7,-0.6,-0.9, -1.0,-0.9,-1.0,-1.1,-1.0,-1.1,-1.0,-1.1,-1.2,-1.1,-1.2,-1.1,-1.0,-1.1,-1.0,-1.1, -1.0,0.4, 0.5,0.6,0.5,0.7,0.5,0.4,0.5,0.5],
[0,0.3,0.5,0.3, 0.4,0.3,0.2,0.1,0.2,0.3,0.2,0.1,0.0,0.1,0.2,0.3,0.2,0.3,0.4,0.3, 0.4,1.4, 1.7,1.6,1.8,2.0,1.8,1.7,1.6,1.7],
[0,0.4,-0.2,0.2, 0.0,0.3,0.1,-0.2,0.0,0.2,-0.1,0.1,-0.2,0.0,0.2,-0.1,0.0,0.2,0.0,0.3, 0.2,1.2, 1.5,1.1,1.4,1.0,1.3,1.5,1.2,1.3],
[0,-0.7,-0.2,-0.5, -0.2,-0.4,-0.6,-0.3,-0.5,-0.2,-0.4,-0.6,-0.3,-0.5,-0.7,-0.4,-0.6,-0.3,-0.5,-0.4, -0.6,0.8, 1.1,0.8,1.2,0.9,0.6,0.9,1.1,1.0],
[0,0.1,0.5,0.0, 0.3,0.0,-0.2,0.1,0.3,0.0,-0.2,0.1,-0.1,0.2,0.0,-0.2,-0.4,-0.1,0.1,-0.2, 0.0,1.1, 0.8,1.3,1.6,1.2,1.5,1.1,1.4,1.2],
[0,-0.4,-0.8,-0.3, -0.5,-0.8,-0.5,-0.7,-0.9,-0.6,-0.8,-0.5,-0.7,-0.9,-0.6,-0.8,-0.6,-0.4,-0.6,-0.5, -0.7,0.5, 0.7,0.4,0.8,0.6,0.9,0.7,0.5,0.6],
[0,0.3,-0.1,0.4, 0.2,0.4,0.2,0.0,0.2,0.4,0.1,0.3,0.1,0.3,0.5,0.2,0.4,0.2,0.4,0.6, 0.3,1.3, 1.6,1.9,1.5,1.8,1.4,1.6,1.9,1.5]
];

const r2014 = [
[0,0.3,0.1,0.4, 0.6,0.8,0.7,0.8,0.9,0.8,0.9,1.0,1.0,0.9,0.9,0.8,0.8,0.8,0.7, 0.7,0.0, 0.0,0.1,0.2,0.1,0.2,0.3,0.3,0.4,0.3],
[0,0.6,0.2,0.5, 0.5,0.6,0.4,0.5,0.6,0.7,0.6,0.7,0.8,0.7,0.8,0.7,0.6,0.7,0.6, 0.5,-0.2, -0.2,-0.1,0.0,-0.1,0.0,0.1,0.0,0.1,0.0],
[0,0.2,0.5,0.3, 0.2,0.3,0.2,0.4,0.3,0.4,0.5,0.4,0.5,0.4,0.5,0.4,0.5,0.4,0.5, 0.4,-0.4, -0.3,-0.4,-0.3,-0.4,-0.3,-0.2,-0.3,-0.2,-0.3],
[0,-0.2,0.2,0.0, 0.1,0.2,0.1,0.2,0.1,0.3,0.2,0.3,0.2,0.3,0.2,0.3,0.2,0.3,0.2, 0.3,-0.6, -0.5,-0.6,-0.5,-0.6,-0.5,-0.6,-0.5,-0.4,-0.5],
[0,0.1,-0.2,-0.1, 0.0,-0.1,0.0,-0.1,0.0,0.1,0.0,0.1,0.0,0.1,0.0,0.1,0.0,-0.1,0.0, -0.1,-0.9, -0.7,-0.8,-0.7,-0.8,-0.7,-0.8,-0.7,-0.8,-0.7],
[0,-0.3,0.0,-0.2, -0.3,-0.2,-0.3,-0.2,-0.1,-0.2,-0.1,-0.2,-0.3,-0.2,-0.1,-0.2,-0.1,-0.2,-0.1, -0.2,-1.1, -0.9,-0.9,-0.8,-0.9,-0.8,-0.9,-0.8,-0.9,-0.8],
[0,-0.5,-0.3,-0.4, -0.3,-0.4,-0.5,-0.4,-0.3,-0.4,-0.3,-0.4,-0.3,-0.4,-0.3,-0.4,-0.3,-0.4,-0.3, -0.4,-1.3, -1.0,-1.1,-1.0,-1.1,-1.0,-0.9,-1.0,-0.9,-1.0],
[0,0.0,-0.5,-0.6, -0.5,-0.6,-0.5,-0.6,-0.5,-0.6,-0.5,-0.4,-0.5,-0.4,-0.5,-0.4,-0.5,-0.4,-0.5, -0.4,-1.4, -1.1,-1.2,-1.1,-1.0,-1.1,-1.0,-1.1,-1.0,-1.1],
[0,-0.6,-0.8,-0.7, -0.6,-0.7,-0.8,-0.7,-0.6,-0.5,-0.6,-0.5,-0.6,-0.5,-0.6,-0.5,-0.6,-0.5,-0.6, -0.5,-1.5, -1.2,-1.3,-1.2,-1.3,-1.2,-1.3,-1.2,-1.1,-1.2],
[0,-0.4,-0.7,-0.9, -1.0,-0.8,-0.9,-0.8,-0.7,-0.8,-0.7,-0.8,-0.7,-0.8,-0.7,-0.8,-0.7,-0.8,-0.7, -0.6,-1.6, -1.3,-1.5,-1.4,-1.5,-1.4,-1.5,-1.4,-1.5,-1.4],
[0,-0.7,-1.0,-0.8, -1.1,-0.9,-1.0,-0.9,-1.0,-1.1,-1.0,-0.9,-1.0,-0.9,-1.0,-0.9,-1.0,-0.9,-0.8, -0.9,-1.8, -1.5,-1.7,-1.6,-1.8,-1.6,-1.7,-1.6,-1.5,-1.6],
[0,-0.2,-0.6,-0.4, -0.7,-0.9,-1.0,-1.1,-1.0,-1.2,-1.3,-1.2,-1.3,-1.4,-1.5,-1.4,-1.5,-1.4,-1.3, -1.4,-2.2, -1.8,-2.0,-1.9,-2.0,-1.9,-2.1,-2.0,-1.9,-1.9],
[0,-0.3,-0.5,-0.6, -0.8,-0.7,-0.6,-0.8,-0.9,-1.1,-1.2,-1.3,-1.4,-1.5,-1.6,-1.6,-1.7,-1.8,-1.9, -2.0,-2.5, -2.3,-2.4,-2.5,-2.4,-2.6,-2.7,-2.8,-2.5,-2.5],
[0,0.4,0.7,0.5, 0.4,0.5,0.4,0.3,0.2,0.3,0.1,0.2,0.1,0.0,-0.1,-0.2,-0.3,-0.4,-0.5, -0.6,-1.5, -1.2,-1.3,-1.4,-1.3,-1.4,-1.3,-1.2,-1.1,-1.2],
[0,-0.5,-0.1,-0.3, -0.2,-0.4,-0.3,-0.4,-0.5,-0.6,-0.7,-0.8,-0.9,-1.0,-1.1,-1.0,-1.1,-1.2,-1.1, -1.2,-2.6, -1.6,-1.8,-1.7,-1.9,-2.0,-1.9,-1.8,-1.7,-1.8],
[0,0.2,0.4,0.2, 0.1,0.2,0.3,0.4,0.3,0.5,0.4,0.6,0.5,0.6,0.5,0.6,0.5,0.6,0.5, 0.6,0.3, 0.0,-0.1,-0.2,-0.1,-0.2,-0.1,0.0,-0.1,-0.2],
[0,0.5,-0.4,0.1, -0.2,0.1,-0.3,0.0,0.2,-0.1,0.1,-0.2,0.0,-0.3,-0.1,-0.3,-0.2,0.0,-0.2, -0.1,-1.0, -0.6,-0.9,-0.7,-1.0,-0.8,-0.6,-0.9,-0.7,-0.8],
[0,-0.8,-0.3,-0.6, -0.4,-0.7,-0.4,-0.6,-0.8,-0.5,-0.7,-0.9,-0.6,-0.8,-0.6,-0.9,-0.7,-0.9,-0.8, -0.7,-1.9, -1.3,-1.6,-1.3,-1.5,-1.2,-1.4,-1.1,-1.3,-1.2],
[0,0.2,0.6,0.0, 0.3,0.0,0.2,0.4,0.1,0.3,0.0,0.2,0.4,0.1,0.3,0.0,0.2,0.1,0.3, 0.2,-0.7, -0.4,-0.6,-0.3,-0.5,-0.2,-0.4,-0.1,-0.3,-0.1],
[0,-0.1,-0.6,-0.3, -0.6,-0.3,-0.5,-0.2,-0.4,-0.6,-0.4,-0.2,-0.4,-0.6,-0.4,-0.6,-0.5,-0.7,-0.5, -0.6,-1.7, -1.0,-0.8,-1.1,-0.9,-1.2,-1.0,-1.1,-0.9,-1.0],
[0,0.3,0.0,0.5, 0.2,0.4,0.6,0.3,0.5,0.2,0.4,0.3,0.5,0.3,0.2,0.4,0.3,0.1,0.3, 0.2,-0.5, -0.4,-0.2,-0.5,-0.3,-0.6,-0.4,-0.5,-0.3,-0.4]
];

const seriesByYear = [r2006,r2007,r2008,r2009,r2010,r2011,r2012,r2013,r2014];
const timesByYear = [tJump1432,tJump1432,t2008,tJump1432,tJump1432,tJump1432,t2012,t2013,t2014];
const yDomains = [[-1.2,4],[-2.5,6.27],[-5,15],[-5,7.9],[-3.17,1.6],[-10,0],[-1.58,3.6],[-2,2.2],[-2.9,1.2]];
const yMajor = [[0,2,4],[0,2.5,5],[0,5,10,15],[0,5],[-2,0],[-7.5,-5,-2.5,0],[0,2],[0,2],[-1,1]];
const yLabels = [["0","2","4"],["0.0","2.5","5.0"],["0","5","10","15"],["0","5"],["-2","0"],["-7.5","-5.0","-2.5","0.0"],["0","2"],["0","2"],["-1","1"]];
const yMinorStep = [0.4,1.25,2.5,1,0.4,1.25,0.4,0.4,0.4];
const showZeroLine = [true,true,true,true,true,false,true,true,true];

// ---------- layout ----------
const svg = d3.select("#c");
const FONT = "'Liberation Serif','Times New Roman',serif";
const colL = [45,325,605], W = 233.3;
const rowT = [22,206,388], rowB = [166.7,349.3,531.7];

years.forEach((yr,i)=>{
  const c = i%3, r = Math.floor(i/3);
  const x = d3.scaleLinear().domain([9.5,16]).range([colL[c], colL[c]+W]);
  const y = d3.scaleLinear().domain(yDomains[i]).range([rowB[r], rowT[r]]);
  const g = svg.append("g");
  const times = timesByYear[i];

  if (showZeroLine[i]) {
    g.append("path")
      .attr("d", d3.line().x(d=>x(d[0])).y(d=>y(d[1]))([[9.5,0],[16,0]]))
      .attr("stroke","#b4b4b4").attr("stroke-width",1.6).attr("fill","none");
  }

  const line = d3.line().x(d=>x(d[0])).y(d=>y(d[1]));
  g.append("g").selectAll("path").data(seriesByYear[i]).join("path")
    .attr("d", vals => line(vals.map((v,j)=>[times[j], v])))
    .attr("fill","none").attr("stroke","#ff0000").attr("stroke-width",1)
    .attr("stroke-linejoin","round");

  const gx = g.append("g").attr("transform",`translate(0,${rowB[r]})`)
    .call(d3.axisBottom(x).tickValues(xTicks).tickSize(5).tickSizeOuter(0).tickPadding(2).tickFormat(d=>String(d)));
  g.append("g").attr("transform",`translate(0,${rowB[r]})`)
    .call(d3.axisBottom(x).tickValues(xMinor).tickSize(3).tickFormat(""))
    .call(s=>s.select(".domain").remove());

  const d0 = yDomains[i][0], d1 = yDomains[i][1], st = yMinorStep[i];
  const minor = d3.range(Math.ceil(d0/st - 1e-6), Math.floor(d1/st + 1e-6)+1).map(k=>+(k*st).toFixed(4))
    .filter(v => !yMajor[i].some(m=>Math.abs(m-v)<1e-6));
  const gy = g.append("g").attr("transform",`translate(${colL[c]},0)`)
    .call(d3.axisLeft(y).tickValues(yMajor[i]).tickSize(5).tickSizeOuter(0).tickPadding(2)
      .tickFormat((d,k)=>yLabels[i][k]));
  g.append("g").attr("transform",`translate(${colL[c]},0)`)
    .call(d3.axisLeft(y).tickValues(minor).tickSize(3).tickFormat(""))
    .call(s=>s.select(".domain").remove());

  g.selectAll(".tick line").attr("stroke","#000");
  g.selectAll(".domain").attr("stroke","#000");
  [gx,gy].forEach(a=>a.attr("font-family",FONT).attr("font-size",16));
  gx.selectAll("text").attr("fill","#000");
  gy.selectAll("text").attr("fill","#000");
  if (c===0) {
    gy.selectAll(".tick text").attr("transform","rotate(-90)")
      .attr("x",0).attr("y",-7).attr("dy",0).attr("text-anchor","middle");
  }

  g.append("text").attr("x",colL[c]+18).attr("y",rowT[r]-4)
    .attr("font-size",16).text(yr);

  if (c===0) {
    const cy = (rowT[r]+rowB[r])/2 - 3;
    g.append("text").attr("transform",`translate(18,${cy}) rotate(-90)`)
      .attr("text-anchor","middle").attr("font-size",17)
      .text("Cumulative Return");
  }
  if (r===2) {
    g.append("text").attr("x",colL[c]+W/2).attr("y",566).attr("text-anchor","middle")
      .attr("font-size",16).text("Time");
  }
});
</script>
</body></html>
